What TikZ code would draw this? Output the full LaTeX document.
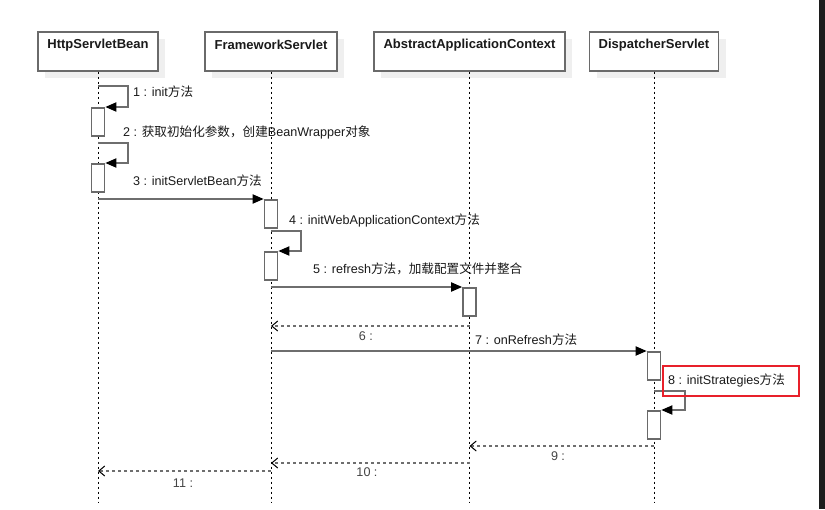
\documentclass[tikz,border=0pt]{standalone}
\usepackage{fontspec}
\setmainfont{Liberation Sans}
\newfontfamily\cjk{Noto Sans CJK SC}
\usetikzlibrary{arrows.meta,shadows}
\definecolor{linegray}{HTML}{6E6E6E}
\definecolor{boxgray}{HTML}{6A6A6A}
\definecolor{shadowgray}{HTML}{EFEFEF}
\definecolor{hlred}{HTML}{E8202A}
\definecolor{barcol}{HTML}{1C1C1C}
\definecolor{txt}{HTML}{1A1A1A}
\definecolor{rettxt}{HTML}{444444}
\begin{document}
\begin{tikzpicture}[x=1pt,y=-1pt,
  font=\fontsize{12.6}{14}\selectfont,
  actor/.style={draw=boxgray, line width=1.6pt, fill=white, minimum height=39pt, anchor=north, inner sep=0pt,
    drop shadow={shadow xshift=7pt, shadow yshift=-7pt, fill=shadowgray, opacity=1}},
  actortxt/.style={font=\fontsize{13}{15}\selectfont\bfseries, text=txt, inner sep=0pt},
  lifeline/.style={draw=black, line width=0.9pt, dash pattern=on 2.5pt off 2.5pt},
  act/.style={draw=boxgray, line width=1.6pt, fill=white, minimum width=13pt, minimum height=28pt, inner sep=0pt, anchor=north},
  msg/.style={draw=linegray, line width=1.8pt, -{Triangle[length=11pt,width=9pt,color=black]}},
  ret/.style={draw=linegray, line width=1.6pt, dash pattern=on 3pt off 3pt, -{Straight Barb[length=6pt,width=10pt,color=black,line width=1pt]}},
  lbl/.style={text=txt, inner sep=0pt, anchor=west},
  rlbl/.style={text=rettxt, inner sep=0pt},
  hlbox/.style={draw=hlred, line width=2.8pt, minimum width=136pt, minimum height=30pt, inner sep=0pt}
]
\useasboundingbox (0,0) rectangle (825,509);
\fill[white] (0,0) rectangle (825,509);
\fill[barcol] (818.5,0) rectangle (825,509);

% actors
\node[actor, minimum width=120pt] (b1) at (98,31) {};
\node[actor, minimum width=132pt] (b2) at (271,31) {};
\node[actor, minimum width=191pt] (b3) at (469.5,31) {};
\node[actor, minimum width=129pt] (b4) at (654,31) {};
\node[actortxt] (t1) at ([yshift=-14pt]b1.north) {HttpServletBean};
\node[actortxt] (t2) at ([yshift=-14pt]b2.north) {FrameworkServlet};
\node[actortxt] (t3) at ([yshift=-14pt]b3.north) {AbstractApplicationContext};
\node[actortxt] (t4) at ([yshift=-14pt]b4.north) {DispatcherServlet};

% lifeline ends
\coordinate (e1) at (98,503);
\coordinate (e2) at (271,503);
\coordinate (e3) at (469.5,503);
\coordinate (e4) at (654,503);
\draw[lifeline] (b1.south) -- (e1);
\draw[lifeline] (b2.south) -- (e2);
\draw[lifeline] (b3.south) -- (e3);
\draw[lifeline] (b4.south) -- (e4);

% activations
\node[act] (a1) at (98,107) {};
\node[act] (a2) at (98,163) {};
\node[act] (a3) at (271,199) {};
\node[act] (a4) at (271,251) {};
\node[act] (a5) at (469.5,287) {};
\node[act] (a7) at (654,351) {};
\node[act] (a8) at (654,410) {};

% message start points
\coordinate (s1) at (98,86);
\coordinate (s2) at (98,143);
\coordinate (s3) at (98,199);
\coordinate (s4) at (271,231);
\coordinate (s5) at (271,287);
\coordinate (s6) at (469.5,326);
\coordinate (d6) at (271,326);
\coordinate (s7) at (271,351);
\coordinate (s8) at (654,391);
\coordinate (s9) at (654,446);
\coordinate (d9) at (469.5,446);
\coordinate (s10) at (469.5,463);
\coordinate (d10) at (271,463);
\coordinate (s11) at (271,471);
\coordinate (d11) at (98,471);

% messages
\draw[msg] (s1) -- ++(30,0) |- (a1.north east);
\draw[msg] (s2) -- ++(30,0) |- (a2.north east);
\draw[msg] (s3) -- (a3.north west);
\draw[msg] (s4) -- ++(30,0) |- (a4.north east);
\draw[msg] (s5) -- (a5.north west);
\draw[ret] (s6) -- (d6);
\draw[msg] (s7) -- (a7.north west);
\draw[msg] (s8) -- ++(31,0) |- (a8.north east);
\draw[ret] (s9) -- (d9);
\draw[ret] (s10) -- (d10);
\draw[ret] (s11) -- (d11);

% labels
\node[lbl] (l1) at (133,92) {1 : init{\cjk 方法}};
\node[lbl] (l2) at (123,132) {2 : {\cjk 获取初始化参数，创建}BeanWrapper{\cjk 对象}};
\node[lbl] (l3) at (133,181) {3 : initServletBean{\cjk 方法}};
\node[lbl] (l4) at (289,220) {4 : initWebApplicationContext{\cjk 方法}};
\node[lbl] (l5) at (313,269) {5 : refresh{\cjk 方法，加载配置文件并整合}};
\node[rlbl] (l6) at (366,336) {6 :};
\node[lbl] (l7) at (475,340) {7 : onRefresh{\cjk 方法}};
\node[lbl] (l8) at (668,380) {8 : initStrategies{\cjk 方法}};
\node[rlbl] (l9) at (558,456) {9 :};
\node[rlbl] (l10) at (367,472) {10 :};
\node[rlbl] (l11) at (183,483) {11 :};

% highlight
\node[hlbox] (hl) at (731,381) {};
\end{tikzpicture}
\end{document}
